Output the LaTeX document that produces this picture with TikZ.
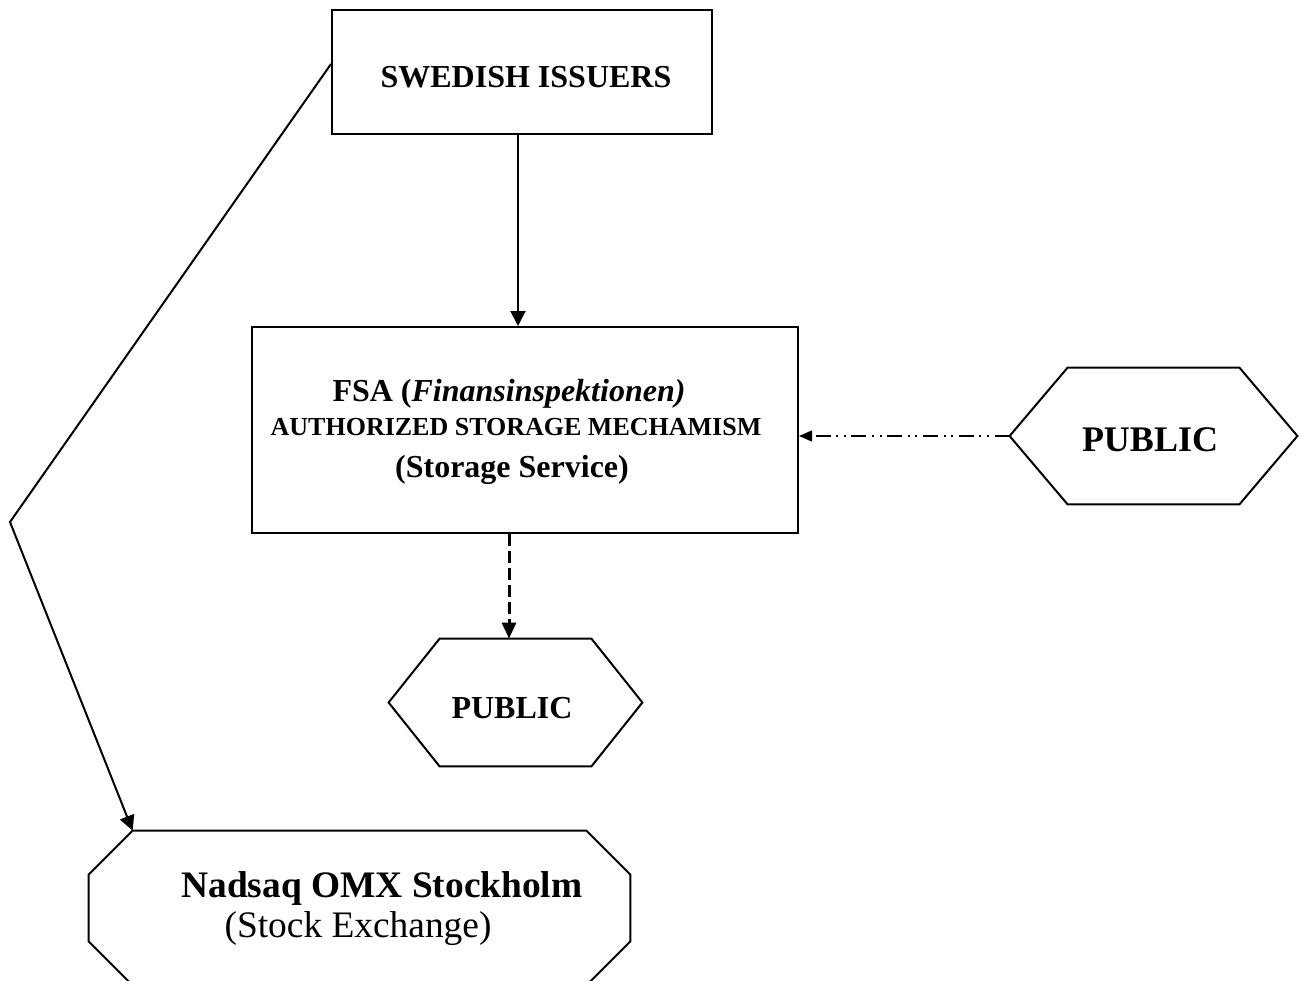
\documentclass[tikz,border=0pt]{standalone}
\usepackage{fontspec}
\setmainfont{Liberation Serif}
\usetikzlibrary{arrows.meta,calc}
\begin{document}
\begin{tikzpicture}[x=0.5pt,y=-0.5pt,
  box/.style={draw,line width=1pt,inner sep=0pt},
  frame/.style={inner sep=0pt},
  outline/.style={line width=1pt,line join=miter},
  lbl/.style={anchor=base,inner sep=0pt},
  bsixteen/.style={lbl,font=\fontsize{16}{19}\selectfont\bfseries},
  bthirteen/.style={lbl,font=\fontsize{13}{15}\selectfont\bfseries},
  beighteen/.style={lbl,font=\fontsize{18}{21}\selectfont\bfseries},
  bnineteen/.style={lbl,font=\fontsize{18.7}{22}\selectfont\bfseries},
  rnineteen/.style={lbl,font=\fontsize{18.7}{22}\selectfont},
  conn/.style={line width=1pt,-{Triangle[length=7.5pt,width=7.5pt]}},
  dashconn/.style={line width=1.5pt,dash pattern=on 6pt off 2.5pt,-{Triangle[length=8pt,width=7pt]}},
  dotconn/.style={line width=0.8pt,dash pattern=on 7.5pt off 2.8pt on 1pt off 2.8pt on 1pt off 2.8pt,-{Triangle[length=6.5pt,width=5.5pt]}}
]
\useasboundingbox (0,0) rectangle (1301,980);

% boxes
\node[box,minimum width=190pt,minimum height=62pt] (iss) at (522,72) {};
\node[bsixteen] (isst) at (526,87) {SWEDISH ISSUERS};

\node[box,minimum width=273pt,minimum height=103pt] (fsa) at (525,430) {};
\node[bsixteen] (fsat1) at (509,401) {FSA (\textit{Finansinspektionen)}};
\node[bthirteen] (fsat2) at (516,435) {AUTHORIZED STORAGE MECHAMISM};
\node[bsixteen] (fsat3) at (512,477) {(Storage Service)};

% right PUBLIC hexagon
\node[frame,minimum width=143.5pt,minimum height=68pt] (hex1) at (1153.5,436) {};
\draw[outline] (hex1.west) -- ($(hex1.north west)+(58,0)$) -- ($(hex1.north east)+(-58,0)$)
  -- (hex1.east) -- ($(hex1.south east)+(-58,0)$) -- ($(hex1.south west)+(58,0)$) -- cycle;
\node[beighteen] (hex1t) at (1150,451) {PUBLIC};

% lower PUBLIC hexagon
\node[frame,minimum width=126.5pt,minimum height=63.5pt] (hex2) at (515.5,702.5) {};
\draw[outline] (hex2.west) -- ($(hex2.north west)+(51,0)$) -- ($(hex2.north east)+(-51,0)$)
  -- (hex2.east) -- ($(hex2.south east)+(-51,0)$) -- ($(hex2.south west)+(51,0)$) -- cycle;
\node[bsixteen] (hex2t) at (512,718) {PUBLIC};

% octagon (its lower edge lies just below the picture)
\node[frame,minimum width=270.5pt,minimum height=77pt] (oct) at (359.5,908) {};
\draw[outline] ($(oct.north west)+(44,0)$) -- ($(oct.north east)+(-44,0)$)
  -- ($(oct.north east)+(0,44)$) -- ($(oct.south east)+(0,-44)$)
  -- ($(oct.south east)+(-44,0)$) -- ($(oct.south west)+(44,0)$)
  -- ($(oct.south west)+(0,-44)$) -- ($(oct.north west)+(0,44)$) -- cycle;
\node[bnineteen] (octt1) at (382,897) {Nadsaq OMX Stockholm};
\node[rnineteen] (octt2) at (358,937) {(Stock Exchange)};

% connectors
\coordinate (va) at (518,0);
\coordinate (vb) at (509,0);
\coordinate (bend) at (10,522);
\draw[conn] (iss.south -| va) -- (fsa.north -| va);
\draw[dashconn] (fsa.south -| vb) -- (hex2.north -| vb);
\draw[dotconn] (hex1.west) -- (fsa.east |- hex1.west);
\draw[conn] ($(iss.north west)+(0,55)$) -- (bend) -- ($(oct.north west)+(44,0)$);
\end{tikzpicture}
\end{document}
